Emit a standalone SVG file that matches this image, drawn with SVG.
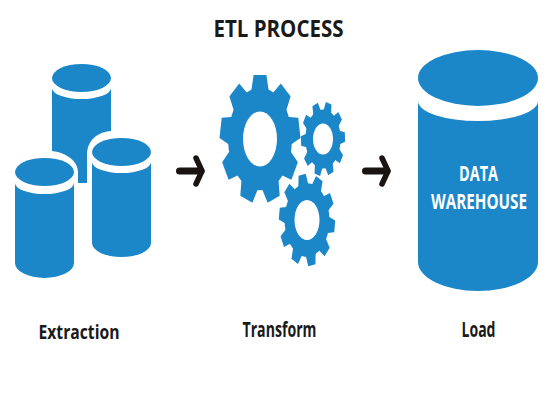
<svg xmlns="http://www.w3.org/2000/svg" width="550" height="400" viewBox="0 0 550 400">
<style>
.b{fill:#1b87c9}
.h{fill:#fff}
.t{font-family:"Open Sans","Liberation Sans",sans-serif;font-weight:700;text-anchor:middle;fill:#1a1a1a}
.w{font-family:"Open Sans","Liberation Sans",sans-serif;font-weight:700;text-anchor:middle;fill:#fff}
.a{fill:none;stroke:#1a1311;stroke-linecap:round;stroke-linejoin:round}
</style>
<defs>
<path id="t9" d="M-23 -70L-16 -100H16L23 -70Z"/>
<g id="g9"><circle r="80"/><use href="#t9"/><use href="#t9" transform="rotate(40)"/><use href="#t9" transform="rotate(80)"/><use href="#t9" transform="rotate(120)"/><use href="#t9" transform="rotate(160)"/><use href="#t9" transform="rotate(200)"/><use href="#t9" transform="rotate(240)"/><use href="#t9" transform="rotate(280)"/><use href="#t9" transform="rotate(320)"/></g>
<path id="t10" d="M-19 -70L-13 -100H13L19 -70Z"/>
<g id="g10"><circle r="80"/><use href="#t10"/><use href="#t10" transform="rotate(36)"/><use href="#t10" transform="rotate(72)"/><use href="#t10" transform="rotate(108)"/><use href="#t10" transform="rotate(144)"/><use href="#t10" transform="rotate(180)"/><use href="#t10" transform="rotate(216)"/><use href="#t10" transform="rotate(252)"/><use href="#t10" transform="rotate(288)"/><use href="#t10" transform="rotate(324)"/></g>
</defs>
<rect width="550" height="400" fill="#fff"/>
<text class="t" x="278.500" y="37" font-size="24" textLength="130" lengthAdjust="spacingAndGlyphs">ETL PROCESS</text>
<g id="extraction" class="b">
<g id="db-back"><ellipse cx="81.500" cy="78" rx="29.500" ry="14"/><path d="M52 88A29.500 11 0 0 0 111 88V131C98 132 87 140 87 155V183H78V172C78 162 68 153 52 151Z"/></g>
<g id="db-left"><ellipse cx="44.500" cy="172" rx="29.500" ry="14"/><path d="M15 183A29.500 11 0 0 0 74 183V263A29.500 15 0 0 1 15 263Z"/></g>
<g id="db-right"><ellipse cx="121.500" cy="152" rx="29.500" ry="14"/><path d="M92 162A29.500 11 0 0 0 151 162V243A29.500 14 0 0 1 92 243Z"/></g>
</g>
<g id="transform-gears" class="b">
<g id="gear-large"><use href="#g9" transform="translate(260 139) scale(.4 .64)"/><ellipse class="h" cx="260" cy="139" rx="17" ry="27.500"/></g>
<g id="gear-medium"><use href="#g10" transform="translate(323 139) scale(.22 .37) rotate(15)"/><ellipse class="h" cx="323" cy="139" rx="10" ry="15.500"/></g>
<g id="gear-small"><use href="#g10" transform="translate(307 220) scale(.28 .46) rotate(-10)"/><ellipse class="h" cx="307" cy="220" rx="12.500" ry="20"/></g>
</g>
<g id="warehouse">
<ellipse class="b" cx="478" cy="78" rx="60" ry="28"/>
<path class="b" d="M418 101A60 20 0 0 0 538 101V262A60 29 0 0 1 418 262Z"/>
<text class="w" x="478.500" y="181" font-size="22" textLength="39" lengthAdjust="spacingAndGlyphs">DATA</text>
<text class="w" x="479" y="209" font-size="21" textLength="96" lengthAdjust="spacingAndGlyphs">WAREHOUSE</text>
</g>
<g id="connectors">
<path class="a" stroke-width="7" d="M179.500 171H201"/>
<path class="a" stroke-width="5.500" d="M196 158L202 171L196 184"/>
<path class="a" stroke-width="7" d="M365.500 171H387"/>
<path class="a" stroke-width="5.500" d="M382 158L388 171L382 184"/>
</g>
<text class="t" x="79" y="339" font-size="20" textLength="81" lengthAdjust="spacingAndGlyphs">Extraction</text>
<text class="t" x="279.500" y="337" font-size="22" textLength="74" lengthAdjust="spacingAndGlyphs">Transform</text>
<text class="t" x="478.500" y="337" font-size="22" textLength="34" lengthAdjust="spacingAndGlyphs">Load</text>
</svg>
